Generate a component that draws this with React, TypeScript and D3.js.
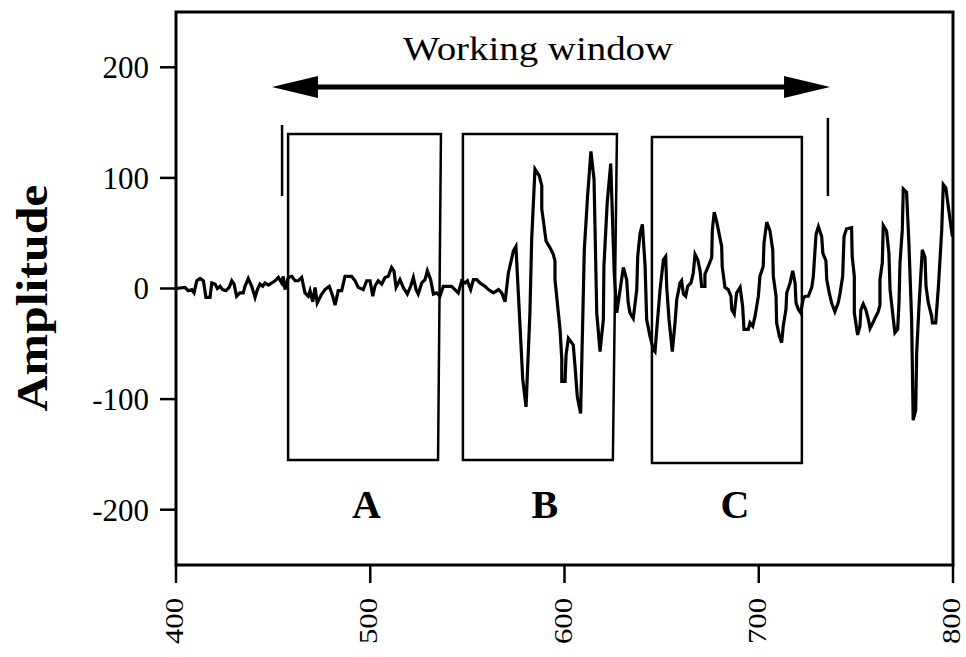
import React from "react";
import * as d3 from "d3";

// ---- data ----
const sigX = [
  400, 404.6, 406.3, 408.1, 409.3, 410.7, 412.4, 414.1, 415.4, 417.5, 418.4, 420.1, 421.3, 422.7, 424, 425.7, 427.4, 428.7, 429.9, 431.2,
  432.9, 434.6, 435.5, 437.2, 439, 440.7, 441.9, 443.2, 444.6, 445.8, 447.5, 449.3, 451, 452.7, 454.4, 455.2, 456.1, 457.8, 459.6, 461.3,
  463, 464.7, 466.4, 468.1, 469, 470.4, 471.6, 472.7, 475, 476.7, 478.9, 480.7, 481.9, 483.5, 485.3, 487, 490.4, 492.2, 493.8, 496.4,
  498.2, 499.9, 501.3, 502.4, 504.1, 505.9, 507.6, 509.3, 511, 512.2, 513.3, 515.3, 517, 519.1, 520.8, 522.2, 523.6, 524.7, 526.5, 528.2,
  529.4, 531.1, 532.5, 534.2, 535.9, 537.6, 539.4, 541.9, 543.6, 545.3, 547.1, 548.8, 550, 551.7, 553.1, 554.8, 556.5, 559.1, 560.8, 563.4,
  566, 567.7, 569.4, 571.1, 573.7, 575, 578.5, 580.2, 582.2, 583.1, 584.8, 587, 588.3, 588.3, 590.5, 592.5, 594.2, 595.1, 595.1, 597.7,
  598.6, 598.6, 600.3, 600.8, 602, 604.5, 605.4, 606.6, 608.3, 610.2, 611.9, 613.6, 615.2, 616.6, 618.3, 620, 620.3, 622, 623.8, 625.6,
  626.9, 630.3, 632, 632.8, 633.7, 635.4, 637.2, 637.7, 638.9, 640.1, 641.5, 642.3, 644, 645.7, 646.6, 647.5, 649.2, 650.9, 652.1, 652.6,
  653.8, 655.5, 656.9, 657.8, 659.5, 660.3, 661.2, 662.4, 663.4, 665.1, 666.3, 667.2, 668.6, 669.8, 670.6, 672.3, 672.3, 674, 675.8, 676.1,
  677.1, 678.4, 680.9, 681.2, 682.6, 684.3, 685.7, 686.1, 687.4, 688.6, 690.4, 691.7, 692.4, 694.6, 695.5, 696.9, 698.1, 699.8, 700.6, 702.3,
  702.7, 704.1, 705.8, 707.2, 707.5, 708.9, 709.2, 710.6, 711.8, 712.6, 714, 714.4, 716.1, 717.5, 718.7, 719.2, 720.4, 721.6, 722.8, 723.8,
  725.5, 727.3, 728.1, 729.5, 730.7, 732.4, 733, 734.6, 735, 736.3, 737.5, 739.2, 740.9, 741.8, 743.2, 743.9, 745.2, 747.8, 748.1, 749.2,
  749.2, 750.9, 752.1, 752.6, 753.8, 755.1, 756.4, 757.3, 759, 759.8, 761.5, 762.4, 762.4, 763.6, 764.1, 765.8, 767, 767.6, 769.3, 770.1,
  771.5, 772.2, 772.7, 773.9, 774.4, 776.1, 777.3, 778.7, 779.5, 780.8, 781.3, 782.5, 784.2, 785.6, 786.1, 787.3, 789, 789.4, 791.1, 792.5,
  794.2, 795, 796.3, 798.5, 799.7,
];
const sigY = [
  0, 1, -2, -1, -4, 7, 9, 7, -8, -8, 5, 4, 0, 2, -1, -2, 1, 7, 4, -7,
  -4, -4, 2, 9, 2, -8, -1, 4, 2, 5, 3, 5, 7, 10, 5, 11, -1, 10, 11, 7,
  7, 10, -4, -7, -2, -12, 1, -13, -5, -1, 2, -7, -15, -2, -2, 11, 11, 7, 1, -1,
  7, 7, -7, 2, 7, 4, 10, 11, 19, 16, 1, 8, 1, -5, 2, 10, -1, -5, 5, 8,
  16, 8, -5, -4, -7, 2, 2, 2, -1, -4, 7, 5, 7, -1, 8, 8, 5, 2, -1, -4,
  -1, -4, -12, 14, 34, 38, -82, -107, -22, 44, 108, 102, 93, 72, 43, 37, 31, 25, 8, -37,
  -64, -84, -84, -60, -45, -51, -70, -98, -113, 35, 84, 124, 99, -22, -57, -28, 20, 78, 113, 14,
  -22, 19, 8, -13, -22, -27, -1, 29, 50, 58, 20, -28, -43, -55, -57, -37, -1, 26, 29, 2,
  -28, -57, -31, -10, 5, 7, -5, -7, 2, 5, 14, 31, 26, 16, 2, 2, 13, 20, 28, 53,
  69, 60, 38, 20, 1, -1, -7, -19, -23, -4, 1, -16, -37, -37, -31, -34, -25, -7, 11, 20,
  41, 60, 52, 35, 11, -7, -31, -43, -49, -34, -19, -4, 5, 16, 5, -13, -19, -22, -10, -7,
  -7, 1, 11, 49, 56, 47, 32, 25, 8, -4, -13, -21, -13, -5, 11, 47, 54, 55, 29, 11,
  -22, -42, -34, -19, -14, -19, -28, -36, -30, -27, -21, -15, 8, 23, 57, 52, 32, -1, -28, -40,
  -37, -13, 23, 53, 90, 87, 41, -28, -119, -110, -58, -16, 35, 28, 2, -13, -25, -31, -31, 2,
  53, 94, 91, 62, 47,
];

const xTicks = [400, 500, 600, 700, 800];
const yTicks = [-200, -100, 0, 100, 200];

// boxes: [x left, x right top, x right bottom, y top, y bottom]
const boxLabels = ["A", "B", "C"];
const boxLeft = [457.7, 547.7, 645];
const boxRightTop = [536.4, 627, 722.2];
const boxRightBottom = [534.9, 624.9, 722.2];
const boxTop = [139.7, 139.7, 137];
const boxBottom = [-155.1, -155.1, -157.8];
const labelX = [498, 589.9, 687.8];
const labelY = -207.5;

// working window
const arrowStart = 449.4;
const arrowEnd = 736.7;
const arrowY = 182.2;
const windowTitle = "Working window";
const windowTitleX = 586.4;
const windowTitleY = 206.6;
const markerX = [454.6, 735.6];
const markerTop = [147.8, 154.2];
const markerBottom = [83.6, 83.6];

const FONT = "'Liberation Serif', 'Times New Roman', serif";

export default function App() {
  const W = 966;
  const H = 657;
  const x = d3.scaleLinear().domain([400, 800]).range([176, 953]);
  const y = d3.scaleLinear().domain([-250, 250]).range([565, 12]);

  const pts: [number, number][] = sigX.map((v, i) => [v, sigY[i]]);
  const line = d3
    .line<[number, number]>()
    .x((d) => x(d[0]))
    .y((d) => y(d[1]));

  const ax0 = x(arrowStart);
  const ax1 = x(arrowEnd);
  const ay = y(arrowY);
  const headL = 46;
  const headH = 11;

  return (
    <svg
      width={W}
      height={H}
      style={{ position: "absolute", left: 0, top: 0, background: "#fff" }}
    >
      {/* frame */}
      <rect
        x={x(400)}
        y={y(250)}
        width={x(800) - x(400)}
        height={y(-250) - y(250)}
        fill="none"
        stroke="#000"
        strokeWidth={3}
      />
      {/* y ticks */}
      {yTicks.map((t) => (
        <g key={"y" + t}>
          <line x1={x(400) - 16} x2={x(400)} y1={y(t)} y2={y(t)} stroke="#000" strokeWidth={2.5} />
          <text
            x={x(400) - 27}
            y={y(t)}
            dy="0.35em"
            textAnchor="end"
            fontFamily={FONT}
            fontSize={31}
            fill="#000"
          >
            {t}
          </text>
        </g>
      ))}
      {/* x ticks */}
      {xTicks.map((t) => (
        <g key={"x" + t}>
          <line x1={x(t)} x2={x(t)} y1={y(-250)} y2={y(-250) + 18} stroke="#000" strokeWidth={2.5} />
          <text
            transform={`translate(${x(t)},${598}) rotate(-90)`}
            dy="0.28em"
            textAnchor="end"
            fontFamily={FONT}
            fontSize={25}
            textLength={46}
            lengthAdjust="spacingAndGlyphs"
            fill="#000"
          >
            {t}
          </text>
        </g>
      ))}
      {/* y axis title */}
      <text
        transform={`translate(32,298) rotate(-90)`}
        dy="0.35em"
        textAnchor="middle"
        fontFamily={FONT}
        fontWeight="bold"
        fontSize={44}
        textLength={227}
        lengthAdjust="spacingAndGlyphs"
        fill="#000"
      >
        Amplitude
      </text>

      {/* boxes */}
      {boxLabels.map((lab, i) => {
        const p = [
          [x(boxLeft[i]), y(boxTop[i])],
          [x(boxRightTop[i]), y(boxTop[i])],
          [x(boxRightBottom[i]), y(boxBottom[i])],
          [x(boxLeft[i]), y(boxBottom[i])],
        ]
          .map((q) => q.join(","))
          .join(" ");
        return (
          <g key={lab}>
            <polygon points={p} fill="none" stroke="#000" strokeWidth={2.5} />
            <text
              x={x(labelX[i])}
              y={y(labelY)}
              textAnchor="middle"
              fontFamily={FONT}
              fontWeight="bold"
              fontSize={40}
              fill="#000"
            >
              {lab}
            </text>
          </g>
        );
      })}

      {/* signal */}
      <path d={line(pts) || ""} fill="none" stroke="#000" strokeWidth={3.2} strokeLinejoin="miter" strokeMiterlimit={4} />

      {/* working window markers */}
      {markerX.map((m, i) => (
        <line
          key={"m" + i}
          x1={x(m)}
          x2={x(m)}
          y1={y(markerTop[i])}
          y2={y(markerBottom[i])}
          stroke="#000"
          strokeWidth={2.5}
        />
      ))}
      {/* arrow */}
      <line x1={ax0 + headL - 2} x2={ax1 - headL + 2} y1={ay} y2={ay} stroke="#000" strokeWidth={5} />
      <polygon
        points={`${ax0},${ay} ${ax0 + headL},${ay - headH} ${ax0 + headL},${ay + headH}`}
        fill="#000"
      />
      <polygon
        points={`${ax1},${ay} ${ax1 - headL},${ay - headH} ${ax1 - headL},${ay + headH}`}
        fill="#000"
      />
      <text
        x={x(windowTitleX)}
        y={y(windowTitleY)}
        textAnchor="middle"
        fontFamily={FONT}
        fontSize={34}
        textLength={270}
        lengthAdjust="spacingAndGlyphs"
        fill="#000"
      >
        {windowTitle}
      </text>
    </svg>
  );
}
